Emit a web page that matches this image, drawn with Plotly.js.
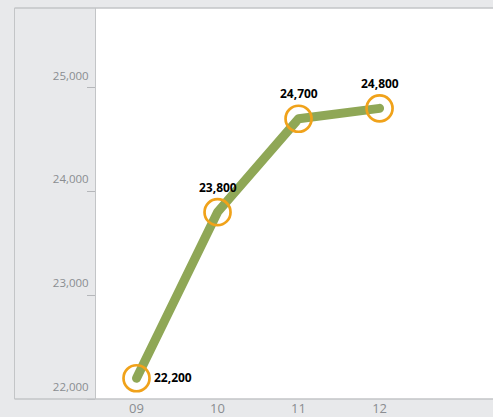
<!DOCTYPE html>
<html>
<head>
<meta charset="utf-8">
<script src="https://cdn.plot.ly/plotly-3.0.1.min.js"></script>
<style>
html,body{margin:0;padding:0;background:#e8e9eb;overflow:hidden;}
#chart{width:493px;height:417px;}
</style>
</head>
<body>
<div id="chart"></div>
<script>
// Data
var categories = ["09", "10", "11", "12"];
var values = [22200, 23800, 24700, 24800];
var yTickVals = [22000, 23000, 24000, 25000];
var yTickText = ["22,000", "23,000", "24,000", "25,000"];
var labelPositions = ["right", "top", "top", "top"];

function fmt(v){ return v.toLocaleString("en-US"); }

var lineTrace = {
  x: categories,
  y: values,
  type: "scatter",
  mode: "lines+markers",
  line: {color: "#8fa756", width: 9},
  marker: {symbol: "circle-open", size: 26, color: "#f0a21a", line: {width: 2.7, color: "#f0a21a"}},
  hoverinfo: "skip",
  cliponaxis: false
};

var annotations = categories.map(function(c, i){
  var right = labelPositions[i] === "right";
  return {
    x: i, y: values[i], xref: "x", yref: "y",
    text: "<b>" + fmt(values[i]) + "</b>",
    showarrow: false,
    font: {family: "Open Sans, DejaVu Sans, sans-serif", size: 12, color: "#000000"},
    xanchor: right ? "left" : "center",
    yanchor: "middle",
    xshift: right ? 15 : 0,
    yshift: right ? 1 : 25
  };
});

var borderColor = "#c3c5c7";
var leftPx = 14.5, plotLeft = 96, plotW = 397;
var xl = (leftPx - plotLeft) / plotW;

var layout = {
  width: 493,
  height: 417,
  margin: {l: 96, r: 0, t: 8, b: 18, pad: 0},
  paper_bgcolor: "#e8e9eb",
  plot_bgcolor: "#ffffff",
  showlegend: false,
  font: {family: "Open Sans, sans-serif"},
  xaxis: {
    type: "category",
    range: [-0.5, 4.4],
    showgrid: false,
    zeroline: false,
    showline: false,
    ticks: "",
    tickfont: {size: 13, color: "#8a8d91"},
    fixedrange: true
  },
  yaxis: {
    range: [22000, 25767],
    tickvals: yTickVals,
    ticktext: yTickText,
    showgrid: false,
    zeroline: false,
    showline: true,
    linecolor: borderColor,
    linewidth: 1,
    ticks: "outside",
    ticklen: 8,
    tickwidth: 1,
    tickcolor: "#b5b7ba",
    ticklabelshift: -12,
    ticklabelstandoff: -4,
    tickfont: {size: 11.5, color: "#8a8d91"},
    fixedrange: true
  },
  shapes: [
    {type: "line", xref: "paper", yref: "paper", x0: xl, x1: xl, y0: 0, y1: 1, line: {color: borderColor, width: 1}},
    {type: "line", xref: "paper", yref: "paper", x0: xl, x1: 1, y0: 1, y1: 1, line: {color: borderColor, width: 1.5}},
    {type: "line", xref: "paper", yref: "paper", x0: xl, x1: 1, y0: 0, y1: 0, line: {color: borderColor, width: 1.5}}
  ],
  annotations: annotations
};

Plotly.newPlot("chart", [lineTrace], layout, {displayModeBar: false, staticPlot: true}).then(function(gd){
  var paths = gd.querySelectorAll("path.js-line");
  paths.forEach(function(p){
    p.style.strokeLinecap = "round";
    p.style.strokeLinejoin = "round";
  });
});
</script>
</body>
</html>
